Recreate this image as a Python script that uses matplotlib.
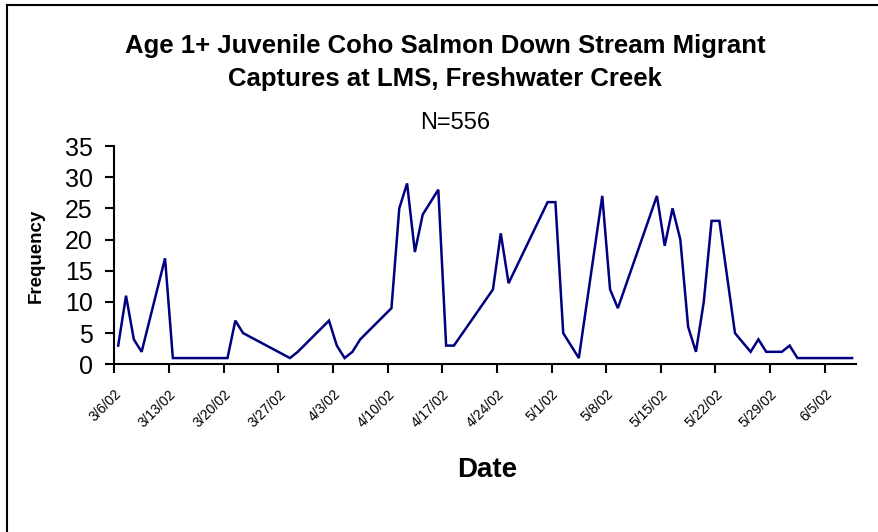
import matplotlib
matplotlib.use("Agg")
import matplotlib.pyplot as plt
import matplotlib.dates as mdates
import matplotlib.transforms as mtransforms
import numpy as np
from matplotlib.lines import Line2D

plt.rcParams['font.family'] = ['Liberation Sans', 'DejaVu Sans']

# ---- data ----
dates = ["2002-03-06", "2002-03-07", "2002-03-08", "2002-03-09", "2002-03-12", "2002-03-13",
         "2002-03-14", "2002-03-15", "2002-03-16", "2002-03-17", "2002-03-18", "2002-03-19",
         "2002-03-20", "2002-03-21", "2002-03-22", "2002-03-28", "2002-03-29", "2002-04-02",
         "2002-04-03", "2002-04-04", "2002-04-05", "2002-04-06", "2002-04-10", "2002-04-11",
         "2002-04-12", "2002-04-13", "2002-04-14", "2002-04-16", "2002-04-17", "2002-04-18",
         "2002-04-23", "2002-04-24", "2002-04-25", "2002-04-30", "2002-05-01", "2002-05-02",
         "2002-05-04", "2002-05-07", "2002-05-08", "2002-05-09", "2002-05-14", "2002-05-15",
         "2002-05-16", "2002-05-17", "2002-05-18", "2002-05-19", "2002-05-20", "2002-05-21",
         "2002-05-22", "2002-05-24", "2002-05-26", "2002-05-27", "2002-05-28", "2002-05-29",
         "2002-05-30", "2002-05-31", "2002-06-01", "2002-06-02", "2002-06-03", "2002-06-04",
         "2002-06-05", "2002-06-06", "2002-06-07", "2002-06-08"]
frequency = [3, 11, 4, 2, 17, 1,
             1, 1, 1, 1, 1, 1,
             1, 7, 5, 1, 2, 7,
             3, 1, 2, 4, 9, 25,
             29, 18, 24, 28, 3, 3,
             12, 21, 13, 26, 26, 5,
             1, 27, 12, 9, 27, 19,
             25, 20, 6, 2, 10, 23,
             23, 5, 2, 4, 2, 2,
             2, 3, 1, 1, 1, 1,
             1, 1, 1, 1]
tick_dates = ["2002-03-06", "2002-03-13", "2002-03-20", "2002-03-27", "2002-04-03", "2002-04-10",
              "2002-04-17", "2002-04-24", "2002-05-01", "2002-05-08", "2002-05-15", "2002-05-22",
              "2002-05-29", "2002-06-05"]
tick_labels = ["3/6/02", "3/13/02", "3/20/02", "3/27/02", "4/3/02", "4/10/02", "4/17/02",
               "4/24/02", "5/1/02", "5/8/02", "5/15/02", "5/22/02", "5/29/02", "6/5/02"]
y_ticks = [0, 5, 10, 15, 20, 25, 30, 35]
title_lines = ["Age 1+ Juvenile Coho Salmon Down Stream Migrant",
               "Captures at LMS, Freshwater Creek"]
subtitle = "N=556"

# ---- figure ----
W, H = 879, 532
fig = plt.figure(figsize=(W / 100, H / 100), dpi=100)
ax = fig.add_axes([114.3 / W, 1 - 364.3 / H, (856 - 114.3) / W, (364.3 - 146) / H])


def to_num(arr):
    return mdates.date2num(np.array(arr, dtype="datetime64[s]").astype(object))


x = to_num(dates) + 0.5
ax.plot(x, frequency, color="#000080", lw=1.8, solid_joinstyle="miter")

start = to_num(["2002-03-06"])[0]
ax.set_xlim(start, start + 95)
ax.set_ylim(0, 35)

ax.set_xticks(to_num(tick_dates))
ax.set_xticklabels(tick_labels, rotation=45, ha="right", va="top", rotation_mode="anchor",
                   fontsize=10)
shift = mtransforms.ScaledTranslation(-2 / 72, 0, fig.dpi_scale_trans)
for lab in ax.get_xticklabels():
    lab.set_transform(lab.get_transform() + shift)
ax.set_yticks(y_ticks)
ax.set_yticklabels([str(v) for v in y_ticks], fontsize=18)

for s in ["top", "right"]:
    ax.spines[s].set_visible(False)
for s in ["left", "bottom"]:
    ax.spines[s].set_linewidth(1.5)
ax.tick_params(axis="both", direction="out", length=6.5, width=1.5, color="black")
ax.tick_params(axis="x", pad=10)
ax.tick_params(axis="y", pad=9)

ax.set_ylabel("Frequency", fontsize=13.5, fontweight="bold")
ax.yaxis.set_label_coords(-(114.3 - 36) / (856 - 114.3), (364.3 - 256) / (364.3 - 146))
ax.set_xlabel("Date", fontsize=20, fontweight="bold")
ax.xaxis.set_label_coords((487 - 114.3) / (856 - 114.3), -(470 - 364.3) / (364.3 - 146))
ax.xaxis.label.set_va("center")
ax.yaxis.label.set_va("center")

fig.text(445 / W, 1 - 46 / H, title_lines[0], ha="center", va="center", fontsize=18.5, fontweight="bold")
fig.text(445 / W, 1 - 79 / H, title_lines[1], ha="center", va="center", fontsize=18.5, fontweight="bold")
fig.text(455 / W, 1 - 123 / H, subtitle, ha="center", va="center", fontsize=17)

# partial chart-area border (left and top)
fig.add_artist(Line2D([7 / W, 7 / W], [0, 1 - 5 / H], color="black", lw=1.5, transform=fig.transFigure))
fig.add_artist(Line2D([7 / W, 1], [1 - 5 / H, 1 - 5 / H], color="black", lw=1.5, transform=fig.transFigure))

fig.savefig("out.png", dpi=100)
